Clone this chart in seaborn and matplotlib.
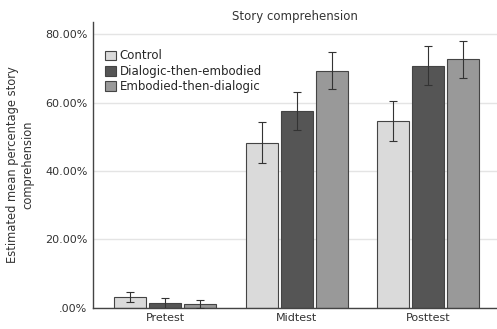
import pandas as pd
import seaborn as sns
from matplotlib import pyplot as plt
from matplotlib.ticker import FuncFormatter

# Values
tests = ['Pretest', 'Midtest', 'Posttest']
groups = ['Control', 'Dialogic-then-embodied', 'Embodied-then-dialogic']
control_mean = [3.3, 48.3, 54.5]
dialogic_mean = [1.3, 57.5, 70.8]
embodied_mean = [1.2, 69.3, 72.6]
control_err = [1.5, 6.0, 5.8]
dialogic_err = [1.6, 5.6, 5.7]
embodied_err = [1.1, 5.4, 5.4]

rows = []
for g, means, errs in zip(groups, [control_mean, dialogic_mean, embodied_mean],
                          [control_err, dialogic_err, embodied_err]):
    for t, m, e in zip(tests, means, errs):
        rows.append({'test': t, 'group': g, 'mean': m, 'err': e})
df = pd.DataFrame(rows)

sns.set_style('white')
plt.rcParams['font.family'] = ['DejaVu Sans']

fig = plt.figure(figsize=(4.97, 3.29), dpi=100)
ax = fig.add_axes([0.187, 0.064, 0.812, 0.869])

palette = ['#dadada', '#555555', '#999999']
sns.barplot(data=df, x='test', y='mean', hue='group', order=tests, hue_order=groups,
            palette=palette, errorbar=None, width=0.8, edgecolor='#444444',
            linewidth=0.8, gap=0.08, ax=ax, zorder=2)

# error bars at the centre of each bar drawn by seaborn
for container, g in zip(ax.containers, groups):
    sub = df[df['group'] == g].set_index('test').loc[tests]
    xs = [p.get_x() + p.get_width() / 2 for p in container.patches]
    ax.errorbar(xs, sub['mean'], yerr=sub['err'], fmt='none', ecolor='#333333',
                elinewidth=0.8, capsize=3, capthick=0.8, zorder=3)

ax.set_ylim(0, 83.5)
ax.set_xlim(-0.55, 2.52)
ax.set_yticks([0, 20, 40, 60, 80])
ax.yaxis.set_major_formatter(FuncFormatter(lambda v, p: '.00%' if v == 0 else f'{v:.2f}%'))
ax.yaxis.grid(True, color='#e4e4e4', linewidth=1, zorder=0)
ax.set_axisbelow(True)
ax.tick_params(axis='both', length=0, labelsize=8, colors='#333333', pad=4)
ax.set_xlabel('')
ax.set_ylabel('Estimated mean percentage story\ncomprehension', fontsize=8.3,
              color='#333333', labelpad=8)
ax.set_title('Story comprehension', fontsize=8.5, color='#333333', pad=1.5)

for side in ['top', 'right']:
    ax.spines[side].set_visible(False)
for side in ['left', 'bottom']:
    ax.spines[side].set_color('#444444')
    ax.spines[side].set_linewidth(1)

ax.legend(loc='upper left', bbox_to_anchor=(0.03, 0.904), frameon=False, fontsize=8.5,
          handlelength=0.9, handleheight=0.9, handletextpad=0.35, labelspacing=0.2,
          borderaxespad=0, borderpad=0)

plt.savefig('out.png', dpi=100)
plt.close()
